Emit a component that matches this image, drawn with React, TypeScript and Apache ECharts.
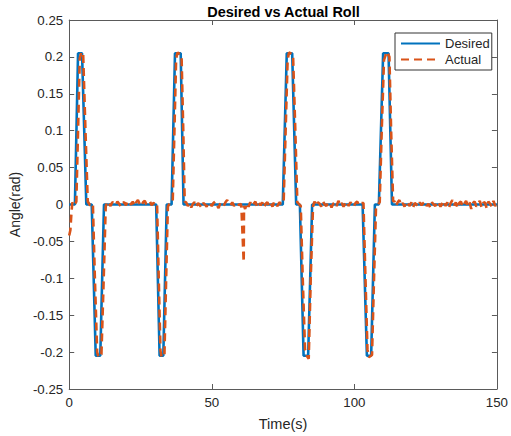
import React, { useEffect, useRef } from "react";
import * as echarts from "echarts";

// Desired roll: breakpoints [time (s), angle (rad)]
const desiredPoints: [number, number][] = [
  [0, 0], [2.0, 0], [3.1, 0.205], [4.5, 0.205], [6.0, 0], [7.9, 0], [9.3, -0.205], [10.9, -0.205], [12.2, 0],
  [30.5, 0], [31.7, -0.205], [33.0, -0.205], [34.2, 0], [35.9, 0], [37.1, 0.205], [39.1, 0.205], [40.1, 0],
  [74.9, 0], [76.3, 0.205], [78.2, 0.205], [79.6, 0], [80.9, 0], [82.2, -0.205], [83.8, -0.205], [85.2, 0],
  [102.9, 0], [104.4, -0.205], [105.9, -0.205], [107.2, 0], [108.6, 0], [110.1, 0.205], [112.0, 0.205], [113.2, 0],
  [150, 0],
];

// Actual roll: transients [time, angle]
const actualStart: [number, number][] = [
  [0, -0.042], [0.4, -0.035], [0.8, -0.01], [1.1, 0.003], [1.6, -0.001], [2.2, 0.002],
];
const actualPulse1: [number, number][] = [
  [2.5, 0.004], [3.1, 0.1], [3.7, 0.198], [4.3, 0.207], [4.9, 0.203], [5.7, 0.1], [6.5, 0.004], [7.3, -0.001],
  [8.3, 0.001], [9.0, -0.1], [9.8, -0.2], [10.3, -0.207], [11.3, -0.203], [12.1, -0.1], [12.8, -0.003],
];
const actualPulse2: [number, number][] = [
  [30.8, 0.002], [31.4, -0.1], [32.0, -0.198], [32.4, -0.207], [33.4, -0.203], [34.0, -0.1], [34.6, -0.003],
  [35.3, 0.002], [36.3, 0.004], [36.9, 0.1], [37.5, 0.198], [38.0, 0.206], [39.4, 0.202], [40.0, 0.1], [40.5, 0.004],
];
const actualDip: [number, number][] = [
  [60.2, 0.001], [60.4, -0.004], [61.2, -0.078], [61.3, -0.002],
];
const actualPulse3: [number, number][] = [
  [75.2, 0.002], [75.9, 0.1], [76.6, 0.196], [77.1, 0.206], [78.5, 0.203], [79.3, 0.1], [80.0, 0.003],
  [81.2, -0.002], [81.9, -0.1], [82.7, -0.196], [83.3, -0.205], [84.0, -0.209], [84.7, -0.1], [85.5, -0.003],
];
const actualPulse4: [number, number][] = [
  [103.2, 0.002], [103.9, -0.1], [104.6, -0.196], [105.1, -0.207], [106.2, -0.204], [106.9, -0.1], [107.6, -0.003],
  [108.9, 0.003], [109.6, 0.1], [110.4, 0.196], [111.4, 0.207], [112.3, 0.2], [112.9, 0.1], [113.6, 0.004],
];

// Actual roll: noise on the flat stretches, sampled every 0.6 s from each start time
const noiseStep = 0.6;
const noiseAStart = 13.3;
const noiseA = [0.004, 0.001, -0.002, 0.003, 0.002, -0.001, 0.004, 0.001, -0.003, 0.002, 0.003, -0.001, 0.005, 0.002, 0.0, 0.004, -0.002, 0.003, 0.006, 0.001, -0.002, 0.003, 0.005, 0.0, 0.002, 0.004, -0.001, 0.002, 0.001];
const noiseBStart = 41.0;
const noiseB = [0.003, -0.002, 0.002, -0.004, 0.001, 0.003, -0.003, 0.002, -0.001, -0.004, 0.002, 0.0, -0.003, 0.003, 0.001, -0.002, 0.002, 0.004, -0.001, -0.005, 0.002, 0.001, -0.002, 0.003, 0.006, 0.002, -0.001, 0.003, -0.002, 0.001, 0.002, -0.001];
const noiseCStart = 61.7;
const noiseC = [-0.006, 0.002, -0.003, 0.003, -0.002, 0.001, 0.004, -0.003, 0.002, -0.001, 0.003, -0.004, 0.001, 0.003, -0.002, 0.002, -0.003, 0.004, 0.0, -0.002, 0.003, 0.001];
const noiseDStart = 86.0;
const noiseD = [0.004, -0.002, 0.003, 0.001, -0.003, 0.004, 0.0, -0.002, 0.003, 0.002, -0.004, 0.001, 0.003, -0.002, 0.005, -0.001, 0.002, -0.003, 0.001, 0.004, -0.002, 0.003, 0.0, -0.003, 0.002, 0.004, -0.001, 0.002];
const noiseEStart = 114.0;
const noiseE = [0.005, -0.002, 0.003, 0.006, -0.001, 0.002, -0.003, 0.004, 0.001, -0.002, 0.003, -0.004, 0.002, 0.0, -0.003, 0.003, -0.001, 0.002, 0.004, -0.002, 0.001, -0.004, 0.003, 0.0, -0.002, 0.004, 0.002, -0.003, 0.001, 0.005, -0.002, 0.003, -0.004, 0.002, 0.006, -0.001, 0.003, -0.005, 0.002, 0.004, -0.003, 0.001, 0.005, -0.002, 0.003, -0.006, 0.002, 0.004, -0.003, 0.001, 0.005, -0.004, 0.002, 0.003, -0.005, 0.004, 0.001, -0.003, 0.005, -0.002, 0.001];

const xTicks = { min: 0, max: 150, interval: 50 };
const yTicks = { min: -0.25, max: 0.25, interval: 0.05 };

const noisePairs = (start: number, vals: number[]): [number, number][] =>
  vals.map((v, i) => [Math.round((start + i * noiseStep) * 100) / 100, v]);

const actualPoints: [number, number][] = [
  ...actualStart,
  ...actualPulse1,
  ...noisePairs(noiseAStart, noiseA),
  ...actualPulse2,
  ...noisePairs(noiseBStart, noiseB),
  ...actualDip,
  ...noisePairs(noiseCStart, noiseC),
  ...actualPulse3,
  ...noisePairs(noiseDStart, noiseD),
  ...actualPulse4,
  ...noisePairs(noiseEStart, noiseE),
];

const BLUE = "#0072BD";
const ORANGE = "#D95319";
const AXIS = "#5a5a5a";
const TXT = "#262626";
const FONT = "'Liberation Sans', Arial, sans-serif";

const axisCommon = () => ({
  axisLine: { show: true, onZero: false, lineStyle: { color: AXIS, width: 1 } },
  axisTick: { show: true, inside: true, length: 5, lineStyle: { color: AXIS, width: 1 } },
  splitLine: { show: false },
});

export default function App() {
  const ref = useRef<HTMLDivElement>(null);
  useEffect(() => {
    if (!ref.current) return;
    const chart = echarts.init(ref.current, undefined, { renderer: "svg" });
    chart.setOption({
      animation: false,
      backgroundColor: "#fff",
      textStyle: { fontFamily: FONT },
      grid: { left: 68, right: 12, top: 20, bottom: 46, containLabel: false },
      graphic: [
        {
          type: "text",
          x: 283.5,
          y: 11.5,
          style: {
            text: "Desired vs Actual Roll",
            font: `bold 14.5px ${FONT}`,
            fill: "#000",
            textAlign: "center",
            textVerticalAlign: "middle",
          },
        },
      ],
      legend: {
        orient: "vertical",
        left: 395,
        top: 33,
        padding: [4, 2, 4, 5],
        itemGap: 3,
        itemWidth: 39,
        itemHeight: 14,
        borderColor: "#333",
        borderWidth: 1,
        borderRadius: 0,
        backgroundColor: "#fff",
        itemStyle: { opacity: 0 },
        textStyle: { fontSize: 13, color: TXT, fontFamily: FONT },
        data: ["Desired", "Actual"],
      },
      xAxis: [
        {
          type: "value",
          position: "bottom",
          ...xTicks,
          ...axisCommon(),
          axisLabel: { color: TXT, fontSize: 13.3, margin: 7, fontFamily: FONT },
          name: "Time(s)",
          nameLocation: "middle",
          nameGap: 27,
          nameTextStyle: { fontSize: 14.5, color: TXT, fontFamily: FONT },
        },
        {
          type: "value",
          position: "top",
          ...xTicks,
          ...axisCommon(),
          axisLabel: { show: false },
        },
      ],
      yAxis: [
        {
          type: "value",
          position: "left",
          ...yTicks,
          ...axisCommon(),
          axisLabel: {
            color: TXT,
            fontSize: 13.3,
            margin: 6,
            fontFamily: FONT,
            formatter: (v: number) => String(Math.round(v * 100) / 100),
          },
          name: "Angle(rad)",
          nameLocation: "middle",
          nameGap: 41,
          nameTextStyle: { fontSize: 14, color: TXT, fontFamily: FONT },
        },
        {
          type: "value",
          position: "right",
          ...yTicks,
          ...axisCommon(),
          axisLabel: { show: false },
        },
      ],
      series: [
        {
          name: "Desired",
          type: "line",
          xAxisIndex: 0,
          yAxisIndex: 0,
          data: desiredPoints,
          showSymbol: false,
          symbol: "none",
          lineStyle: { color: BLUE, width: 2.6 },
          itemStyle: { color: BLUE },
        },
        {
          name: "Actual",
          type: "line",
          xAxisIndex: 0,
          yAxisIndex: 0,
          data: actualPoints,
          showSymbol: false,
          symbol: "none",
          lineStyle: { color: ORANGE, width: 2.6, type: [8, 5] },
          itemStyle: { color: ORANGE },
        },
      ],
    });
    return () => chart.dispose();
  }, []);
  return (
    <div
      ref={ref}
      style={{ position: "absolute", left: 0, top: 0, width: 511, height: 436 }}
    />
  );
}
